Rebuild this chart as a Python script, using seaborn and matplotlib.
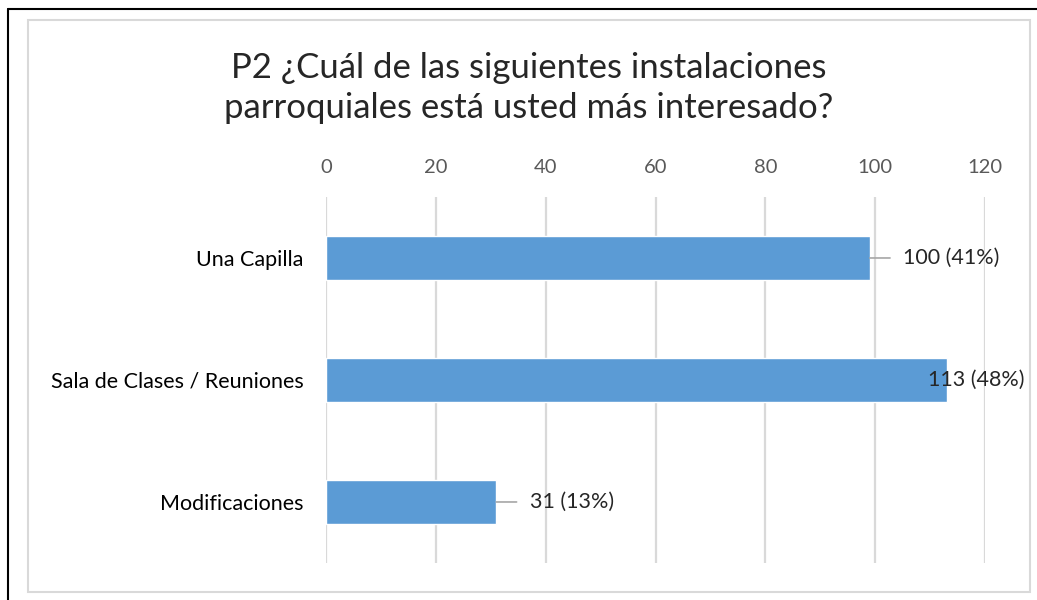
import matplotlib.pyplot as plt
import matplotlib.lines as mlines
import matplotlib.patches as mpatches
import pandas as pd
import seaborn as sns

# Data
categories = ['Una Capilla', 'Sala de Clases / Reuniones', 'Modificaciones']
counts = [99, 113, 31]
labels = ['100 (41%)', '113 (48%)', '31 (13%)']
ticks = [0, 20, 40, 60, 80, 100, 120]

df = pd.DataFrame({'categoria': categories, 'respuestas': counts})

sns.set_style('white')
plt.rcParams['font.family'] = ['Lato', 'DejaVu Sans']

fig = plt.figure(figsize=(10.37, 6), dpi=100)
ax = fig.add_axes([0.3144, 0.0617, 0.6355, 0.61])

sns.barplot(data=df, y='categoria', x='respuestas', orient='h',
            color='#5b9bd5', width=0.36, saturation=1, ax=ax)

ax.set_xlim(0, 120)
ax.set_ylim(2.5, -0.5)
ax.set_xticks(ticks)
ax.xaxis.tick_top()
ax.tick_params(axis='x', length=0, pad=15, labelsize=14.5, labelcolor='#595959')
ax.tick_params(axis='y', length=0, pad=16, labelsize=15.5, labelcolor='#000000')
ax.set_xlabel('')
ax.set_ylabel('')
ax.grid(axis='x', color='#d9d9d9', linewidth=1.6)
ax.set_axisbelow(True)
for s in ax.spines.values():
    s.set_visible(False)

# Data labels with leader lines
for i, (v, txt) in enumerate(zip(counts, labels)):
    if i == 1:
        ax.annotate(txt, xy=(v, i), xytext=(-13.5, 0), textcoords='offset points',
                    va='center', ha='left', fontsize=15.5)
    else:
        ax.annotate(txt, xy=(v, i), xytext=(24, 0), textcoords='offset points',
                    va='center', ha='left', fontsize=15.5,
                    arrowprops=dict(arrowstyle='-', color='#a6a6a6', lw=1.2,
                                    shrinkA=7, shrinkB=0))

fig.text(0.510, 0.853, 'P2 ¿Cuál de las siguientes instalaciones\nparroquiales está usted más interesado?',
         ha='center', va='center', fontsize=25, linespacing=1.32)

# Chart area borders
fig.patches.append(mpatches.Rectangle((28 / 1037, 1 - 592 / 600), 1002 / 1037, 572 / 600,
                                      transform=fig.transFigure, fill=False,
                                      edgecolor='#d9d9d9', linewidth=1.5))
fig.lines.append(mlines.Line2D([8 / 1037, 1], [1 - 9 / 600, 1 - 9 / 600],
                               transform=fig.transFigure, color='black', linewidth=1.5))
fig.lines.append(mlines.Line2D([8 / 1037, 8 / 1037], [0, 1 - 9 / 600],
                               transform=fig.transFigure, color='black', linewidth=1.5))

fig.savefig('out.png', dpi=100)
